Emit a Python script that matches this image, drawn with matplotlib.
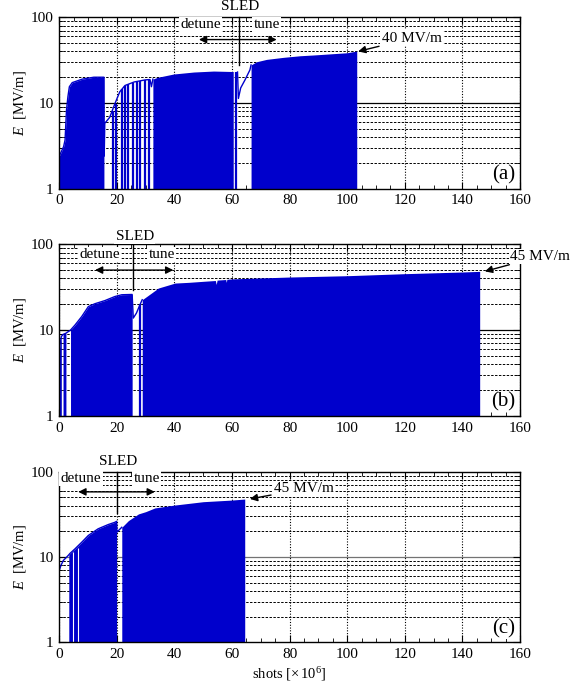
import numpy as np
import matplotlib
matplotlib.use('Agg')
import matplotlib.pyplot as plt
from matplotlib.ticker import MultipleLocator, LogLocator, FormatStrFormatter, NullFormatter

plt.rcParams['font.family'] = ['Liberation Serif', 'DejaVu Serif']
plt.rcParams['mathtext.fontset'] = 'custom'
plt.rcParams['mathtext.rm'] = 'Liberation Serif'
plt.rcParams['mathtext.it'] = 'Liberation Serif:italic'

BLUE = '#0000cc'

# ---- panel (a) ----
a_blk1_x = [0, 1.5, 2, 2.5, 3, 3.5, 4.5, 8, 12, 15.5]
a_blk1_e = [2.4, 3.1, 3.7, 8.3, 11.9, 15.5, 17.3, 19, 20, 20]
a_gap1_x = [15.6, 15.8, 17.5, 19.3, 21, 22.8, 26, 29.8, 31.5, 32.0, 32.5]
a_gap1_e = [2.4, 5.8, 6.8, 9.8, 13.5, 16, 17.6, 18.6, 18.8, 15.5, 19]
a_strip_x = [18.6, 19.6, 21.7, 22.8, 24.0, 25.5, 26.9, 28.0, 29.8, 31.1, 61.3]
a_strip_e = [8.0, 9.8, 14.5, 16, 16.6, 17.1, 17.6, 17.9, 18.6, 18.7, 23]
a_blk2_x = [32.5, 34, 39.7, 46.7, 53.6, 60.4]
a_blk2_e = [19, 19.9, 21.8, 23, 23.6, 23.3]
a_gap2_x = [61.9, 62.2, 63, 64.5, 66.2, 66.6]
a_gap2_e = [23, 11.3, 15, 18.6, 24.3, 27.8]
a_blk3_x = [66.6, 68.5, 72, 77.8, 83.6, 88, 100, 103.3]
a_blk3_e = [27.8, 30.3, 32.3, 34.1, 35.6, 36.3, 38.6, 40.4]

# ---- panel (b) ----
b_blk0_x = [0, 0.7]
b_blk0_e = [5.9, 8.4]
b_blk1_x = [1.3, 2.3]
b_blk1_e = [8.9, 9.2]
b_blk2_x = [3.9, 5.5, 7.8, 10.1, 12.4, 15.9, 19.3, 21.7, 25.3]
b_blk2_e = [10, 11.5, 14.4, 18.8, 20.3, 22.1, 24.6, 25.8, 26]
b_gap_x = [25.3, 25.7, 26.8, 28.0, 28.8]
b_gap_e = [26, 13.8, 15.8, 19.7, 22.6]
b_strip_x = [28.2]
b_strip_e = [20]
b_blk3_x = [28.8, 32, 34.4, 40.2, 45, 50, 54.2, 54.5, 54.8, 57.8, 58, 58.2, 60, 80, 100, 120, 140, 146]
b_blk3_e = [22.6, 27, 30.9, 35.3, 36, 37, 37.8, 34, 38.2, 38.8, 36, 39, 39.5, 41.5, 43, 45.4, 47.5, 48.3]

# ---- panel (c) ----
c_gap0_x = [0, 0.6, 1.4, 2.6, 3.3]
c_gap0_e = [7.0, 8.0, 9.1, 10, 10.6]
c_blk1_x = [3.3, 3.7, 5.5, 7.8, 10.1, 13.5, 17, 19.3, 19.9]
c_blk1_e = [10.6, 11, 12.5, 14.9, 17.9, 21.4, 24, 25.5, 26.2]
c_hole_x = [4.9, 6.6]
c_hole_e = [11.4, 12.8]
c_gap1_x = [19.9, 20.0, 20.8, 21.7]
c_gap1_e = [26.2, 19.5, 20.8, 22.3]
c_blk2_x = [21.7, 24, 27.5, 30, 33.2, 40, 50, 60, 64.4]
c_blk2_e = [22.3, 26.7, 32, 34, 37.6, 40.6, 44.5, 46.5, 47.8]

panels = [
    dict(blocks=[(a_blk1_x, a_blk1_e), (a_blk2_x, a_blk2_e), (a_blk3_x, a_blk3_e)],
         lines=[(a_blk1_x + a_gap1_x, a_blk1_e + a_gap1_e), (a_gap2_x, a_gap2_e)],
         strips=(a_strip_x, a_strip_e), holes=([], []),
         sled=62.3, sled_low=27.7, arrow=(48.5, 75.5), arrow_y=55,
         detune=(49, 82), tune=(72, 82), sled_off=7.5,
         label='40 MV/m', tip=(103.8, 40), txt=(112, 57), tha='left',
         tag='(a)', rect=[0.1033, 0.7253, 0.8026, 0.2495], ten='k'),
    dict(blocks=[(b_blk0_x, b_blk0_e), (b_blk1_x, b_blk1_e), (b_blk2_x, b_blk2_e), (b_blk3_x, b_blk3_e)],
         lines=[(b_blk0_x + b_blk1_x + b_blk2_x + b_gap_x, b_blk0_e + b_blk1_e + b_blk2_e + b_gap_e)],
         strips=(b_strip_x, b_strip_e), holes=([], []),
         sled=25.7, sled_low=29.4, arrow=(12.4, 39.6), arrow_y=50,
         detune=(14, 76), tune=(35.5, 76), sled_off=5.5,
         label='45 MV/m', tip=(147.8, 48.3), txt=(156.5, 72), tha='left',
         tag='(b)', rect=[0.1033, 0.3945, 0.8026, 0.2500], ten='k'),
    dict(blocks=[(c_blk1_x, c_blk1_e), (c_blk2_x, c_blk2_e)],
         lines=[(c_gap0_x + c_blk1_x + c_gap1_x, c_gap0_e + c_blk1_e + c_gap1_e)],
         strips=([], []), holes=(c_hole_x, c_hole_e),
         sled=19.9, sled_low=32.5, arrow=(6.6, 33.2), arrow_y=58,
         detune=(7.5, 83), tune=(30.3, 83), sled_off=7.5,
         label='45 MV/m', tip=(66.2, 47.9), txt=(74.5, 62.7), tha='left',
         tag='(c)', rect=[0.1033, 0.0651, 0.8026, 0.2483], ten='0.45'),
]

fig = plt.figure(figsize=(5.74, 6.87), dpi=100)

for p in panels:
    ax = fig.add_axes(p['rect'])
    ax.set_yscale('log')
    ax.set_xlim(0, 160)
    ax.set_ylim(1, 100)
    ax.set_axisbelow(True)

    for bx, be in p['blocks']:
        ax.fill_between(bx, 1, be, color=BLUE, lw=0, zorder=2)
    for lx, le in p['lines']:
        ax.plot(lx, le, color=BLUE, lw=1.0, zorder=2.2)
    sx, se = p['strips']
    if sx:
        ax.vlines(sx, 1, se, color=BLUE, lw=1.6, zorder=2.1)
    hx, he = p['holes']
    if hx:
        ax.vlines(hx, 1, he, color='white', lw=0.8, zorder=2.3)

    # grid
    ax.xaxis.set_major_locator(MultipleLocator(20))
    ax.xaxis.set_minor_locator(MultipleLocator(5))
    ax.yaxis.set_major_locator(LogLocator(base=10))
    ax.yaxis.set_minor_locator(LogLocator(base=10, subs=np.arange(2, 10)))
    ax.yaxis.set_major_formatter(FormatStrFormatter('%g'))
    ax.yaxis.set_minor_formatter(NullFormatter())
    ax.grid(True, axis='x', which='major', color='k', lw=0.8, ls=(0, (1, 1.5)), zorder=0)
    ax.grid(True, axis='y', which='minor', color='k', lw=0.7, ls=(0, (2.5, 1.5)), zorder=0)
    ax.axhline(10, color=p['ten'], lw=0.9, zorder=0.5)

    ax.tick_params(which='both', direction='in', top=True, right=True, labelsize=11)
    ax.tick_params(which='major', length=5, width=0.8, pad=4)
    ax.tick_params(which='minor', length=3, width=0.6)
    for s in ax.spines.values():
        s.set_linewidth(1.0)
    ax.set_ylabel('$E$  [MV/m]', fontsize=10.5, labelpad=2)

    # SLED annotation
    box = dict(fc='white', ec='none', pad=1.0)
    ax.plot([p['sled'], p['sled']], [100, p['sled_low']], color='k', lw=1.0, zorder=4, clip_on=False)
    ax.annotate('', xy=(p['arrow'][0], p['arrow_y']), xytext=(p['arrow'][1], p['arrow_y']),
                arrowprops=dict(arrowstyle='<|-|>', color='k', lw=1.0, mutation_scale=11,
                                shrinkA=0, shrinkB=0), zorder=4)
    ax.text(p['detune'][0], p['detune'][1], 'detune', ha='center', va='center', fontsize=11,
            bbox=box, zorder=5, clip_on=False)
    ax.text(p['tune'][0], p['tune'][1], 'tune', ha='center', va='center', fontsize=11,
            bbox=box, zorder=5, clip_on=False)
    ax.annotate('SLED', xy=(p['sled'] + 0.5, 100), xytext=(0, p['sled_off']),
                textcoords='offset points', ha='center', va='center', fontsize=11,
                bbox=box, zorder=5, annotation_clip=False)

    # peak field annotation
    ax.annotate(p['label'], xy=p['tip'], xytext=p['txt'], ha=p['tha'], va='center', fontsize=11,
                bbox=box, zorder=5, annotation_clip=False,
                arrowprops=dict(arrowstyle='-|>', color='k', lw=1.0, mutation_scale=11,
                                shrinkA=1, shrinkB=0))

    ax.text(0.99, 0.025, p['tag'], ha='right', va='bottom', transform=ax.transAxes, fontsize=15,
            bbox=dict(fc='white', ec='none', pad=0.5), zorder=5)

ax.set_xlabel('shots [$\\times\\,10^6$]', fontsize=10.5, labelpad=3)

fig.savefig('out.png', dpi=100)
